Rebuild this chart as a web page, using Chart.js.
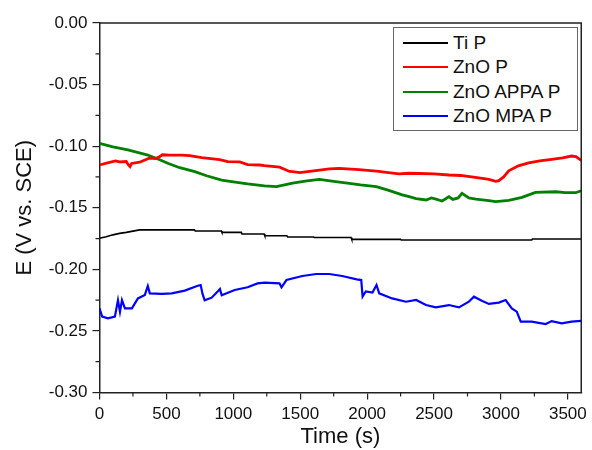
<!DOCTYPE html>
<html>
<head>
<meta charset="utf-8">
<script src="https://cdn.jsdelivr.net/npm/chart.js@4"></script>
<style>
  body { margin: 0; background: #fff; }
  #wrap { position: relative; width: 592px; height: 450px; }
  #legend {
    position: absolute; left: 393px; top: 27px; width: 185px; height: 104px;
    border: 1px solid #666; background: #fff; box-sizing: border-box;
    font-family: "Liberation Sans", Arial, sans-serif; font-size: 19px; color: #111;
  }
  .row { position: absolute; left: 0; height: 24px; line-height: 24px; white-space: nowrap; }
  .row .sw { position: absolute; left: 9px; top: 11px; width: 45px; height: 2px; }
  .row .tx { position: absolute; left: 59px; top: 0; }
</style>
</head>
<body>
<div id="wrap">
  <canvas id="chart" width="592" height="450"></canvas>
  <div id="legend"></div>
</div>
<script>
// categories / series
const seriesNames = ['Ti P', 'ZnO P', 'ZnO APPA P', 'ZnO MPA P'];
const seriesColors = ['#000000', '#ff0000', '#008000', '#0000ff'];

// Ti P
const tiTime = [0, 50, 100, 150, 200, 250, 300, 710, 715, 910, 915, 1060, 1065, 1230, 1235, 1400, 1405, 1600, 1605, 1880, 1885, 2250, 2255, 3230, 3235, 3600];
const tiE = [-0.1748, -0.1735, -0.172, -0.1708, -0.170, -0.169, -0.168, -0.168, -0.1689, -0.1689, -0.170, -0.170, -0.1713, -0.1713, -0.1727, -0.1727, -0.1737, -0.1737, -0.1742, -0.1742, -0.1757, -0.1757, -0.1762, -0.1762, -0.1754, -0.1754];

// ZnO P
const znoTime = [0, 60, 120, 150, 200, 215, 228, 240, 300, 376, 420, 451, 470, 525, 615, 674, 764, 898, 958, 1048, 1107, 1197, 1233, 1346, 1420, 1443, 1496, 1600, 1718, 1792, 1940, 2089, 2113, 2238, 2314, 2388, 2500, 2611, 2700, 2835, 2910, 2961, 2984, 3020, 3058, 3130, 3207, 3290, 3379, 3460, 3528, 3560, 3600];
const znoE = [-0.1153, -0.1135, -0.112, -0.1128, -0.1125, -0.115, -0.1166, -0.114, -0.113, -0.1096, -0.11, -0.1085, -0.107, -0.1072, -0.1072, -0.1077, -0.1093, -0.111, -0.1126, -0.1128, -0.115, -0.1153, -0.1158, -0.117, -0.1205, -0.1207, -0.1215, -0.12, -0.1185, -0.118, -0.119, -0.1205, -0.1208, -0.1225, -0.122, -0.1222, -0.1225, -0.1234, -0.1238, -0.1258, -0.127, -0.1285, -0.128, -0.125, -0.12, -0.116, -0.1135, -0.112, -0.1107, -0.1095, -0.108, -0.1085, -0.1115];

// ZnO APPA P
const appaTime = [0, 100, 212, 361, 450, 510, 600, 712, 800, 913, 1000, 1107, 1233, 1322, 1443, 1550, 1643, 1750, 1867, 1950, 2068, 2150, 2262, 2314, 2366, 2440, 2480, 2515, 2560, 2590, 2611, 2640, 2680, 2709, 2760, 2813, 2910, 2961, 3058, 3157, 3258, 3409, 3480, 3558, 3600];
const appaE = [-0.0977, -0.1005, -0.1031, -0.1072, -0.111, -0.1139, -0.1175, -0.1207, -0.124, -0.1275, -0.129, -0.1307, -0.1323, -0.1329, -0.13, -0.1282, -0.127, -0.1285, -0.1302, -0.1315, -0.1329, -0.1355, -0.1396, -0.141, -0.1425, -0.1437, -0.142, -0.143, -0.1445, -0.1425, -0.141, -0.1432, -0.142, -0.1383, -0.142, -0.143, -0.1443, -0.145, -0.144, -0.1415, -0.1375, -0.137, -0.1378, -0.1378, -0.1362];

// ZnO MPA P
const mpaTime = [0, 20, 63, 115, 138, 153, 168, 190, 242, 287, 339, 361, 376, 466, 540, 637, 734, 756, 770, 786, 838, 883, 900, 913, 1010, 1107, 1181, 1233, 1345, 1360, 1397, 1516, 1620, 1717, 1814, 1922, 1956, 1966, 1990, 2040, 2070, 2090, 2187, 2290, 2366, 2440, 2513, 2611, 2686, 2760, 2798, 2857, 2910, 2984, 3035, 3081, 3118, 3148, 3230, 3334, 3379, 3454, 3528, 3600];
const mpaE = [-0.2317, -0.2384, -0.2398, -0.2384, -0.225, -0.2345, -0.225, -0.2317, -0.2317, -0.2236, -0.2208, -0.2135, -0.2195, -0.22, -0.2195, -0.2173, -0.2133, -0.2128, -0.22, -0.2252, -0.223, -0.218, -0.216, -0.221, -0.2168, -0.2146, -0.2114, -0.2108, -0.2114, -0.2146, -0.2087, -0.2054, -0.2038, -0.2038, -0.2054, -0.2081, -0.2087, -0.2222, -0.218, -0.2188, -0.2127, -0.2195, -0.2236, -0.2263, -0.2249, -0.229, -0.2309, -0.229, -0.2309, -0.2263, -0.2222, -0.2255, -0.2281, -0.227, -0.2249, -0.2317, -0.2344, -0.2425, -0.2425, -0.2444, -0.242, -0.2438, -0.2425, -0.2419];

// axis ticks
const xTicks = [0, 500, 1000, 1500, 2000, 2500, 3000, 3500];
const yTicks = [0, -0.05, -0.10, -0.15, -0.20, -0.25, -0.30];

const FONT = '"Liberation Sans", Arial, sans-serif';

function toPoints(xs, ys) {
  return xs.map((x, i) => ({ x: x, y: ys[i] }));
}

const allTimes = [tiTime, znoTime, appaTime, mpaTime];
const allValues = [tiE, znoE, appaE, mpaE];
const widths = [1.6, 2.8, 2.8, 2.2];

const datasets = seriesNames.map((name, i) => ({
  label: name,
  data: toPoints(allTimes[i], allValues[i]),
  borderColor: seriesColors[i],
  backgroundColor: seriesColors[i],
  borderWidth: widths[i],
  pointRadius: 0,
  tension: 0,
  showLine: true,
  fill: false,
}));

// petits traits mineurs + cadre haut/droite
const framePlugin = {
  id: 'frame',
  afterDraw(chart) {
    const ctx = chart.ctx;
    const a = chart.chartArea;
    const xs = chart.scales.x, ys = chart.scales.y;
    ctx.save();
    ctx.strokeStyle = '#222';
    ctx.lineWidth = 1.5;
    ctx.beginPath();
    ctx.moveTo(a.left, a.top);
    ctx.lineTo(a.right, a.top);
    ctx.lineTo(a.right, a.bottom);
    ctx.stroke();
    ctx.lineWidth = 1.2;
    ctx.beginPath();
    for (let i = 0; i < xTicks.length; i++) {
      const v = xTicks[i] + 250;
      if (v >= 3600) continue;
      const px = xs.getPixelForValue(v);
      ctx.moveTo(px, a.bottom);
      ctx.lineTo(px, a.bottom + 4);
    }
    for (let i = 0; i < yTicks.length - 1; i++) {
      const py = ys.getPixelForValue(yTicks[i] - 0.025);
      ctx.moveTo(a.left, py);
      ctx.lineTo(a.left - 4, py);
    }
    ctx.stroke();
    ctx.restore();
  }
};

new Chart(document.getElementById('chart').getContext('2d'), {
  type: 'scatter',
  data: { datasets: datasets },
  options: {
    responsive: false,
    animation: false,
    layout: { padding: { top: 23, right: 8, left: 0, bottom: 0 } },
    plugins: { legend: { display: false }, tooltip: { enabled: false } },
    scales: {
      x: {
        type: 'linear',
        min: 0,
        max: 3600,
        afterBuildTicks: s => { s.ticks = xTicks.map(v => ({ value: v })); },
        ticks: { color: '#111', font: { family: FONT, size: 17 }, padding: 5, maxRotation: 0, callback: v => String(v) },
        grid: { drawOnChartArea: false, tickLength: 7, color: '#222', lineWidth: 1.2 },
        border: { color: '#222', width: 1.5 },
        title: { display: true, text: 'Time (s)', color: '#111', font: { family: FONT, size: 22 }, padding: 0 },
        afterFit: s => { s.height = 57.5; }
      },
      y: {
        type: 'linear',
        min: -0.3,
        max: 0,
        afterBuildTicks: s => { s.ticks = yTicks.map(v => ({ value: v })); },
        ticks: { color: '#111', font: { family: FONT, size: 17 }, padding: 5, callback: v => v.toFixed(2) },
        grid: { drawOnChartArea: false, tickLength: 7, color: '#222', lineWidth: 1.2 },
        border: { color: '#222', width: 1.5 },
        title: { display: true, text: 'E (V vs. SCE)', color: '#111', font: { family: FONT, size: 22 }, padding: { top: 12, bottom: 0 } },
        afterFit: s => { s.width = 99.5; }
      }
    }
  },
  plugins: [framePlugin]
});

// légende dans le cadre
const legend = document.getElementById('legend');
seriesNames.forEach((name, i) => {
  const row = document.createElement('div');
  row.className = 'row';
  row.style.top = (3 + i * 24.3) + 'px';
  row.innerHTML = '<span class="sw" style="background:' + seriesColors[i] + '"></span><span class="tx">' + name + '</span>';
  legend.appendChild(row);
});
</script>
</body>
</html>
